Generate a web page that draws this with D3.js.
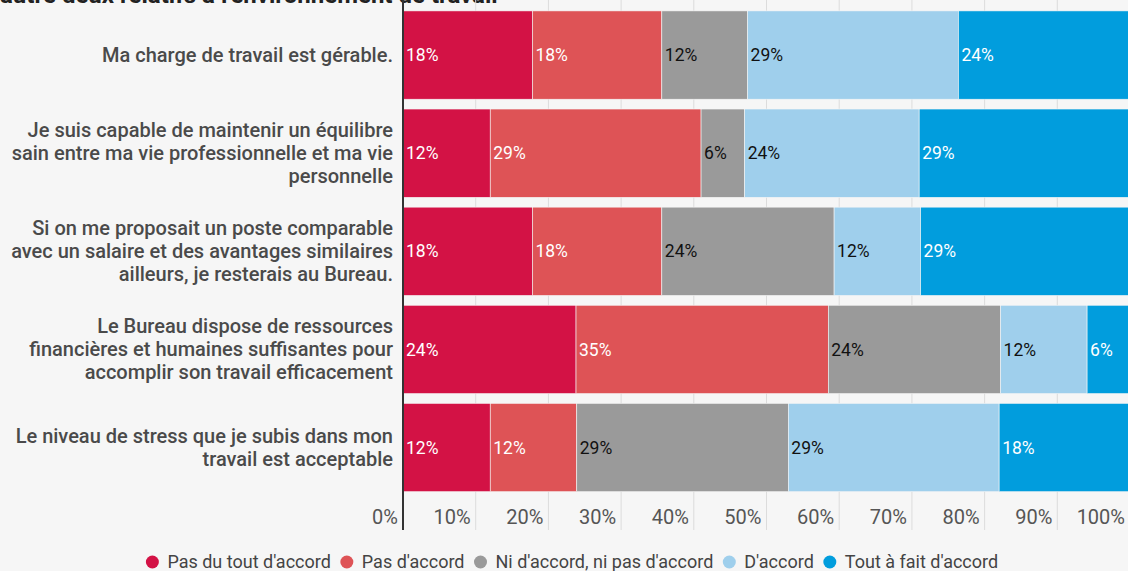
<!DOCTYPE html>
<html>
<head>
<meta charset="utf-8">
<script src="https://cdn.jsdelivr.net/npm/d3@7"></script>
<style>
  html, body { margin: 0; padding: 0; background: #f6f6f6; overflow: hidden; }
  svg { display: block; font-family: Roboto, "Noto Sans", sans-serif; }
</style>
</head>
<body>
<div id="chart"></div>
<script>
// data (share of respondents, %)
const questions = [
  ["Ma charge de travail est gérable."],
  ["Je suis capable de maintenir un équilibre", "sain entre ma vie professionnelle et ma vie", "personnelle"],
  ["Si on me proposait un poste comparable", "avec un salaire et des avantages similaires", "ailleurs, je resterais au Bureau."],
  ["Le Bureau dispose de ressources", "financières et humaines suffisantes pour", "accomplir son travail efficacement"],
  ["Le niveau de stress que je subis dans mon", "travail est acceptable"]
];
const answers = ["Pas du tout d'accord", "Pas d'accord", "Ni d'accord, ni pas d'accord", "D'accord", "Tout à fait d'accord"];
const pasDuTout = [17.8, 12.0, 17.8, 23.8, 12.0];
const pasDaccord = [17.8, 29.0, 17.8, 34.7, 11.9];
const neutre = [11.8, 6.0, 23.7, 23.7, 29.1];
const daccord = [29.0, 24.0, 11.9, 11.9, 29.0];
const toutAFait = [23.6, 29.0, 28.8, 5.9, 18.0];
const xTicks = [0, 10, 20, 30, 40, 50, 60, 70, 80, 90, 100];
const titleText = "autre deux relatifs à l'environnement de travail";

const colors = ["#d31245", "#de5356", "#9a9a9a", "#9fcfec", "#019ddd"];
const labelColors = ["#fff", "#fff", "#111", "#111", "#fff"];

const W = 1128, H = 571;
const margin = {left: 403, right: -2};

const svg = d3.select("#chart").append("svg")
    .attr("width", W)
    .attr("height", H);

const rows = questions.map((q, i) => ({
  q: q, idx: i,
  vals: [pasDuTout[i], pasDaccord[i], neutre[i], daccord[i], toutAFait[i]]
}));

const x = d3.scaleLinear().domain([0, 100]).range([margin.left, W - margin.right]);
const y = d3.scaleBand().domain(d3.range(rows.length)).range([6, 496.6])
    .paddingInner(0.1).paddingOuter(0.05);

// title (cut off at top)
svg.append("text")
    .attr("x", 0).attr("y", 3)
    .attr("font-size", 24).attr("font-weight", 700)
    .attr("fill", "#222")
    .text(titleText);

// grid
svg.append("g").selectAll("line")
  .data(xTicks.slice(1))
  .join("line")
    .attr("x1", d => x(d)).attr("x2", d => x(d))
    .attr("y1", 0).attr("y2", 530)
    .attr("stroke", "#dcdcdc").attr("stroke-width", 1);

// tick labels
svg.append("g").selectAll("text")
  .data(xTicks)
  .join("text")
    .attr("x", d => x(d) - 5)
    .attr("y", 524)
    .attr("text-anchor", "end")
    .attr("font-size", 20)
    .attr("fill", "#555")
    .text(d => d + "%");

// bars
const rowG = svg.append("g").selectAll("g")
  .data(rows)
  .join("g")
    .attr("transform", d => `translate(0,${y(d.idx)})`);

rowG.each(function(r) {
  const g = d3.select(this);
  let acc = 0;
  const segs = r.vals.map((v, k) => { const s = {k: k, v: v, x0: acc}; acc += v; return s; });
  g.selectAll("rect").data(segs).join("rect")
    .attr("x", d => x(d.x0))
    .attr("width", d => x(d.x0 + d.v) - x(d.x0))
    .attr("y", 0)
    .attr("height", y.bandwidth())
    .attr("fill", d => colors[d.k])
    .attr("stroke", "#f6f6f6").attr("stroke-width", 0.6);
  g.selectAll("text.val").data(segs).join("text")
    .attr("class", "val")
    .attr("x", d => x(d.x0) + 3)
    .attr("y", y.bandwidth() / 2)
    .attr("dy", "0.35em")
    .attr("font-size", 17.5)
    .attr("fill", d => labelColors[d.k])
    .text(d => Math.round(d.v) + "%");
});

// category labels
rowG.append("text")
    .attr("text-anchor", "end")
    .attr("font-size", 20)
    .attr("font-weight", 500)
    .attr("fill", "#4a4a4a")
    .each(function(r) {
      const t = d3.select(this);
      const n = r.q.length;
      r.q.forEach((line, j) => {
        t.append("tspan")
          .attr("x", 393)
          .attr("y", y.bandwidth() / 2 + (j - (n - 1) / 2) * 23)
          .attr("dy", "0.35em")
          .text(line);
      });
    });

// axis line
svg.append("line")
    .attr("x1", x(0)).attr("x2", x(0))
    .attr("y1", 0).attr("y2", 530)
    .attr("stroke", "#333").attr("stroke-width", 2);

// legend
const legend = svg.append("g");
const items = legend.selectAll("g").data(answers).join("g");
items.append("circle").attr("r", 6.5).attr("cy", 0).attr("fill", (d, i) => colors[i]);
items.append("text")
    .attr("x", 15).attr("dy", "0.35em")
    .attr("font-size", 18).attr("fill", "#444")
    .text(d => d);
let lx = 0;
items.each(function() {
  const w = d3.select(this).select("text").node().getComputedTextLength();
  d3.select(this).attr("transform", `translate(${lx},0)`);
  lx += 15 + w + 16;
});
const totalW = lx - 16 + 6.5;
legend.attr("transform", `translate(${572 - totalW / 2 + 6.5},562)`);
</script>
</body>
</html>
